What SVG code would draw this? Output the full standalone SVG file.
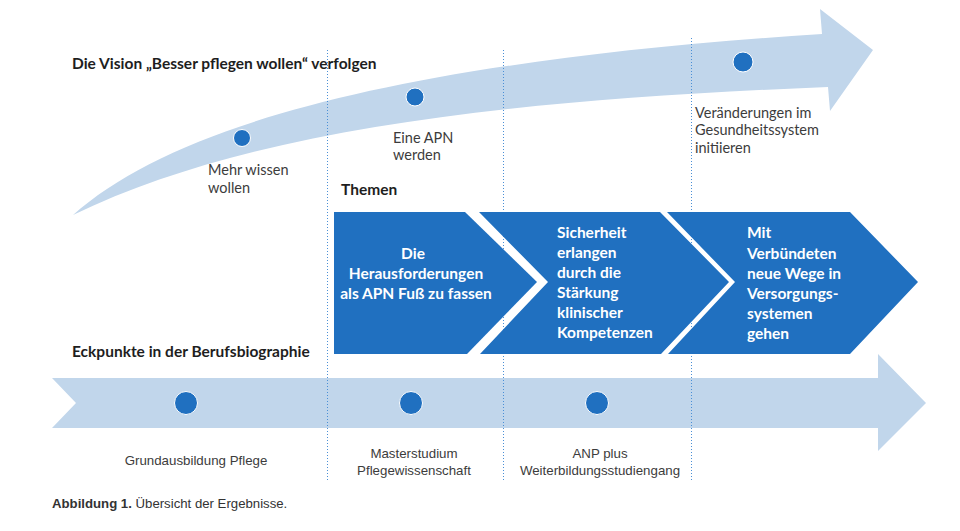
<svg xmlns="http://www.w3.org/2000/svg" width="960" height="531" viewBox="0 0 960 531">
<style>
.band{fill:#c1d6eb}
.dot{fill:#2070c0;stroke:#ffffff;stroke-width:1}
.chev{fill:#2070c0}
.guide{stroke:#4a8fd6;stroke-width:1;stroke-dasharray:1 2;fill:none}
.lbl{font-family:Lato,"Open Sans",sans-serif;font-size:14.5px;fill:#3c3c3c}
.head{font-family:Lato,"Open Sans",sans-serif;font-size:15.5px;font-weight:bold;fill:#1e1e1e}
.wt{font-family:Lato,"Open Sans",sans-serif;font-size:15.5px;font-weight:bold;fill:#ffffff}
.sm{font-family:"Liberation Sans",Arial,sans-serif;font-size:13.3px;fill:#3c3c3c}
.cap{font-family:"Liberation Sans",Arial,sans-serif;font-size:13.2px;fill:#333333}
</style>
<rect width="960" height="531" fill="#ffffff"/>
<g id="arrow-vision">
<path class="band" d="M73,215 C180,120 420,60 822,34 L820,9 L873,50 L830,111 L828,87 C500,100 250,130 73,215 Z"/>
</g>
<g id="arrow-career">
<path class="band" d="M52,378 L878,378 L878,354 L926,403 L878,451 L878,428 L52,428 L76,403 Z"/>
</g>
<g id="connectors">
<line class="guide" x1="327.5" y1="50" x2="327.5" y2="480"/>
<line class="guide" x1="503.5" y1="50" x2="503.5" y2="480"/>
<line class="guide" x1="691.5" y1="38" x2="691.5" y2="480"/>
</g>
<text class="head" x="72" y="69">Die Vision „Besser pflegen wollen“ verfolgen</text>
<g id="v1">
<circle class="dot" cx="242" cy="138" r="8.5"/>
<text class="lbl" x="208" y="175">Mehr wissen</text>
<text class="lbl" x="208" y="193">wollen</text>
</g>
<g id="v2">
<circle class="dot" cx="415" cy="97" r="9"/>
<text class="lbl" x="393" y="143">Eine APN</text>
<text class="lbl" x="393" y="160">werden</text>
</g>
<g id="v3">
<circle class="dot" cx="743" cy="62" r="10"/>
<text class="lbl" x="695" y="118">Veränderungen im</text>
<text class="lbl" x="695" y="135">Gesundheitssystem</text>
<text class="lbl" x="695" y="153">initiieren</text>
</g>
<text class="head" x="341" y="195">Themen</text>
<g id="t1">
<path class="chev" d="M334,212 L465,212 L537,282 L467,354 L334,354 Z"/>
<text class="wt" text-anchor="middle" x="413" y="259">Die</text>
<text class="wt" text-anchor="middle" x="416" y="279">Herausforderungen</text>
<text class="wt" text-anchor="middle" x="416" y="299">als APN Fuß zu fassen</text>
</g>
<g id="t2">
<path class="chev" d="M479,212 L660,212 L729,282 L661,354 L480,354 L548,282 Z"/>
<text class="wt" x="557" y="238">Sicherheit</text>
<text class="wt" x="557" y="258">erlangen</text>
<text class="wt" x="557" y="278">durch die</text>
<text class="wt" x="557" y="298">Stärkung</text>
<text class="wt" x="557" y="318">klinischer</text>
<text class="wt" x="557" y="338">Kompetenzen</text>
</g>
<g id="t3">
<path class="chev" d="M667,212 L850,212 L918,282 L850,354 L668,354 L735,282 Z"/>
<text class="wt" x="747" y="238">Mit</text>
<text class="wt" x="747" y="259">Verbündeten</text>
<text class="wt" x="747" y="279">neue Wege in</text>
<text class="wt" x="747" y="299">Versorgungs-</text>
<text class="wt" x="747" y="319">systemen</text>
<text class="wt" x="747" y="339">gehen</text>
</g>
<text class="head" x="72" y="357">Eckpunkte in der Berufsbiographie</text>
<g id="c1">
<circle class="dot" cx="186" cy="403" r="11.5"/>
<text class="sm" text-anchor="middle" x="196" y="465">Grundausbildung Pflege</text>
</g>
<g id="c2">
<circle class="dot" cx="411" cy="403" r="11.5"/>
<text class="sm" text-anchor="middle" x="414" y="458">Masterstudium</text>
<text class="sm" text-anchor="middle" x="414" y="475">Pflegewissenschaft</text>
</g>
<g id="c3">
<circle class="dot" cx="597" cy="403" r="11.5"/>
<text class="sm" text-anchor="middle" x="600" y="458">ANP plus</text>
<text class="sm" text-anchor="middle" x="600" y="475">Weiterbildungsstudiengang</text>
</g>
<text class="cap" x="52" y="508"><tspan font-weight="bold">Abbildung 1.</tspan> Übersicht der Ergebnisse.</text>
</svg>
